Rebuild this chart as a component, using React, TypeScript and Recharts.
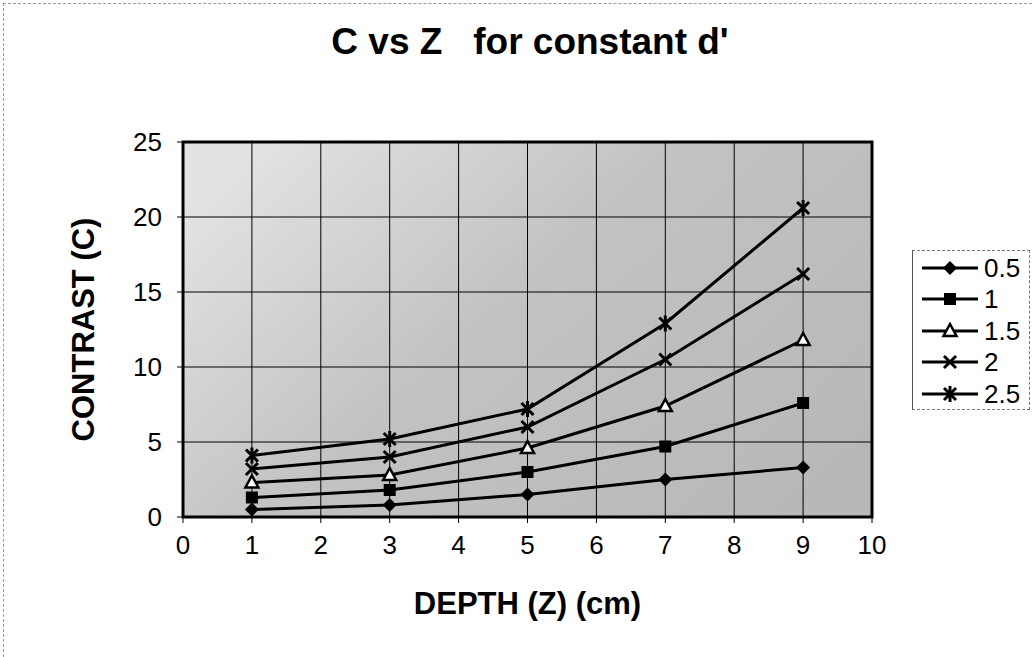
import { LineChart, Line, XAxis, YAxis, CartesianGrid, ReferenceArea } from 'recharts';

const depths = [1, 3, 5, 7, 9];
const seriesNames = ['0.5', '1', '1.5', '2', '2.5'];
const c05 = [0.5, 0.8, 1.5, 2.5, 3.3];
const c10 = [1.3, 1.8, 3.0, 4.7, 7.6];
const c15 = [2.3, 2.8, 4.6, 7.4, 11.8];
const c20 = [3.2, 4.0, 6.0, 10.5, 16.2];
const c25 = [4.1, 5.2, 7.2, 12.9, 20.6];
const xTicks = [0, 1, 2, 3, 4, 5, 6, 7, 8, 9, 10];
const yTicks = [0, 5, 10, 15, 20, 25];

const seriesValues = [c05, c10, c15, c20, c25];
const markers = ['diamond', 'square', 'triangle', 'cross', 'star'];

const data = depths.map((z, i) => {
  const row: Record<string, number> = { z };
  seriesNames.forEach((name, k) => {
    row[name] = seriesValues[k][i];
  });
  return row;
});

const font = '"Liberation Sans", Arial, sans-serif';

function Marker({ kind, cx, cy }: { kind: string; cx: number; cy: number }) {
  if (cx == null || cy == null) return null;
  switch (kind) {
    case 'diamond':
      return <polygon points={`${cx},${cy - 7} ${cx + 7},${cy} ${cx},${cy + 7} ${cx - 7},${cy}`} fill="#000" />;
    case 'square':
      return <rect x={cx - 6} y={cy - 6} width={12} height={12} fill="#000" />;
    case 'triangle':
      return (
        <polygon
          points={`${cx},${cy - 7} ${cx + 6.5},${cy + 5} ${cx - 6.5},${cy + 5}`}
          fill="#fff"
          stroke="#000"
          strokeWidth={2.5}
        />
      );
    case 'cross':
      return (
        <g stroke="#000" strokeWidth={3}>
          <line x1={cx - 6} y1={cy - 6} x2={cx + 6} y2={cy + 6} />
          <line x1={cx - 6} y1={cy + 6} x2={cx + 6} y2={cy - 6} />
        </g>
      );
    default:
      return (
        <g stroke="#000" strokeWidth={3}>
          <line x1={cx - 6} y1={cy - 6} x2={cx + 6} y2={cy + 6} />
          <line x1={cx - 6} y1={cy + 6} x2={cx + 6} y2={cy - 6} />
          <line x1={cx} y1={cy - 8} x2={cx} y2={cy + 8} />
        </g>
      );
  }
}

const tickStyle = { fontSize: 26, fill: '#000', fontFamily: font };
const labelStyle = { fontWeight: 'bold', fill: '#000', fontFamily: font };

export default function App() {
  return (
    <div style={{ position: 'absolute', left: 0, top: 0, width: 1032, height: 657, background: '#fff', fontFamily: font }}>
      <div
        style={{
          position: 'absolute',
          left: 3,
          top: 3,
          right: 0,
          bottom: 0,
          borderTop: '1px dashed #999',
          borderLeft: '1px dashed #999',
        }}
      />
      <div
        style={{
          position: 'absolute',
          left: 0,
          width: 1060,
          top: 21,
          textAlign: 'center',
          fontSize: 37,
          fontWeight: 'bold',
          whiteSpace: 'pre',
        }}
      >
        {"C vs Z   for constant d'"}
      </div>
      <LineChart width={1032} height={657} data={data} margin={{ top: 142, right: 160, bottom: 40, left: 63 }}>
        <defs>
          <linearGradient id="bg" x1="0" y1="0.2" x2="1" y2="0.8">
            <stop offset="0%" stopColor="#e2e2e2" />
            <stop offset="45%" stopColor="#c2c2c2" />
            <stop offset="100%" stopColor="#b8b8b8" />
          </linearGradient>
        </defs>
        <CartesianGrid stroke="#000" strokeWidth={1} fill="url(#bg)" fillOpacity={1} />
        <XAxis
          dataKey="z"
          type="number"
          domain={[0, 10]}
          ticks={xTicks}
          tick={tickStyle}
          tickSize={6}
          tickMargin={13}
          stroke="#000"
          height={100}
          label={{ value: 'DEPTH (Z) (cm)', position: 'insideBottom', offset: 3, style: { ...labelStyle, fontSize: 31 } }}
        />
        <YAxis
          type="number"
          domain={[0, 25]}
          ticks={yTicks}
          tick={tickStyle}
          tickSize={6}
          tickMargin={15}
          stroke="#000"
          width={120}
          label={{
            value: 'CONTRAST (C)',
            angle: -90,
            position: 'insideLeft',
            offset: 20,
            style: { ...labelStyle, textAnchor: 'middle', fontSize: 31 },
          }}
        />
        <ReferenceArea x1={0} x2={10} y1={0} y2={25} fill="none" stroke="#000" strokeWidth={3} ifOverflow="visible" />
        {seriesNames.map((name, k) => (
          <Line
            key={name}
            dataKey={name}
            stroke="#000"
            strokeWidth={3}
            isAnimationActive={false}
            dot={(p: any) => <Marker key={`${name}-${p.index}`} kind={markers[k]} cx={p.cx} cy={p.cy} />}
            activeDot={false}
          />
        ))}
      </LineChart>
      <div
        style={{
          position: 'absolute',
          left: 912,
          top: 250,
          width: 118,
          height: 160,
          borderLeft: '1px solid #555',
          borderTop: '1px dashed #777',
          borderBottom: '1px dashed #777',
          borderRight: '1px dashed #777',
          boxSizing: 'border-box',
        }}
      >
        {seriesNames.map((name, k) => (
          <div key={name} style={{ display: 'flex', alignItems: 'center', height: 31.5, marginTop: k === 0 ? 1 : 0 }}>
            <svg width={62} height={24} style={{ marginLeft: 9, flexShrink: 0 }}>
              <line x1={0} y1={12} x2={56} y2={12} stroke="#000" strokeWidth={3} />
              <Marker kind={markers[k]} cx={28} cy={12} />
            </svg>
            <span style={{ fontSize: 26, lineHeight: '26px' }}>{name}</span>
          </div>
        ))}
      </div>
    </div>
  );
}
